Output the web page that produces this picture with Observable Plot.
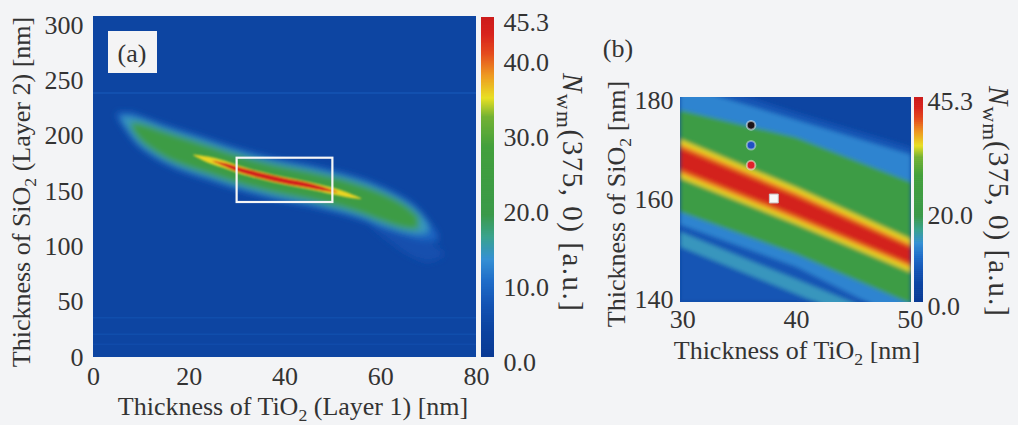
<!DOCTYPE html>
<html><head><meta charset="utf-8">
<script src="https://cdn.jsdelivr.net/npm/d3@7"></script>
<script src="https://cdn.jsdelivr.net/npm/@observablehq/plot@0.6"></script>
<style>
html,body{margin:0;padding:0;background:#f3f4f6;}
#chart{position:relative;width:1018px;height:425px;overflow:hidden;}
#chart svg{position:absolute;left:0;top:0;}
</style></head><body><div id="chart"></div>
<script>
// ================= DATA =================
// ---- panel (a)
const aXTicks = [0, 20, 40, 60, 80];
const aYTicks = [0, 50, 100, 150, 200, 250, 300];
const aXDomain = [0, 80];
const aYDomain = [0, 308];
const aBackground = 4;                 // N_wm of the dark-blue field
const aStreakY = [239, 36, 21, 12];    // faint lighter rows in the map
const aStreakV = [8, 6.5, 6.5, 6];
// faint haze below the right end of the band (level 6)
const aHazeX   = [58, 62, 66, 70, 73];
const aHazeTop = [126, 118, 110, 104, 96];
const aHazeBot = [118, 104, 92, 86, 90];
// light-blue halo (level 9)
const aHaloX   = [5, 8, 10, 15, 20, 25, 30, 35, 40, 45, 50, 55, 60, 65, 68, 72];
const aHaloTop = [221, 221, 218, 210, 203, 196, 189, 183, 178, 174, 169, 163, 155, 144, 134, 112];
const aHaloBot = [216, 197, 188, 174, 165, 158, 151, 145, 140, 136, 131, 125, 117, 110, 106, 104];
// cyan edge (level 14)
const aEdgeX   = [6, 8, 10, 15, 20, 25, 30, 35, 40, 45, 50, 55, 60, 65, 68, 70];
const aEdgeTop = [218, 217, 215, 207, 200, 193, 186, 180, 175, 171, 166, 160, 152, 141, 131, 120];
const aEdgeBot = [214, 201, 191, 177, 168, 161, 154, 148, 143, 139, 134, 128, 120, 113, 111, 112];
// green body (level 22)
const aGreenX   = [8, 10, 15, 20, 25, 30, 35, 40, 45, 50, 55, 60, 65, 68];
const aGreenTop = [212, 211, 204, 197, 190, 183, 177, 172, 168, 163, 157, 149, 138, 127];
const aGreenBot = [207, 195, 180, 171, 164, 157, 151, 146, 142, 137, 131, 123, 116, 115];
// yellow core (level 35)
const aYellowX   = [21, 24, 27, 30, 35, 40, 45, 50, 53, 56];
const aYellowTop = [183, 181.1, 177.9, 173.5, 167.5, 162.5, 158.4, 153, 148.7, 143.4];
const aYellowBot = [182, 175.5, 171.1, 166.5, 160.5, 155.5, 151.6, 147, 144.3, 142.6];
// red core (level 44)
const aRedX   = [25, 28, 30, 35, 40, 45, 48, 51];
const aRedTop = [177.3, 174.8, 172.3, 166.6, 161.6, 157.4, 153.8, 149.3];
const aRedBot = [176.7, 171.2, 167.7, 161.4, 156.4, 152.6, 150.2, 148.7];
// zoom window shown in (b)
const zoomX = [30, 50];
const zoomY = [140, 180];

// ---- colour bars
const cbMax = 45.3;
const cbATicks = [0, 10, 20, 30, 40, 45.3];
const cbBTicks = [0, 20, 45.3];

// ---- panel (b)
const bXTicks = [30, 40, 50];
const bYTicks = [140, 160, 180];
const bXDomain = [29.8, 50.1];
const bYDomain = [139.4, 180.6];
const bBackground = 4;
const bX = [29.8, 40, 50.1];
const bBlueTop   = [185, 177.5, 170.5];   // level 7
const bBlueBot   = [139.4, 139.4, 139.4];
const bLightTop  = [183, 176, 169];       // level 12
const bLightBot  = [155, 146.5, 135];
const bFringeTop = [153.5, 144, 134.5];   // level 14
const bFringeBot = [150.5, 141, 131.5];
const bGreenTop  = [178, 172.5, 163.5];   // level 22
const bGreenBot  = [157.5, 149, 139];
const bYellowTop = [172.1, 162.4, 152.0]; // level 35
const bYellowBot = [164.3, 155.1, 145.4];
const bOrangeTop = [171.1, 161.4, 151.0]; // level 39
const bOrangeBot = [165.3, 156.0, 146.4];
const bRedTop    = [170.3, 160.6, 150.3]; // level 44
const bRedBot    = [166.1, 156.8, 147.1];
const bDotX = [36, 36, 36];
const bDotY = [175, 171, 167];
const bSquareX = [38];
const bSquareY = [160.3];

// ================= STYLE =================
const cStops  = [0, 4, 7, 10, 13, 16, 19, 28, 32, 34.5, 37.5, 40.5, 43, 45.3];
const cColors = ["#0a3a94","#0d45a2","#1454b4","#1f6cc8","#3590d4","#3aa38e","#3b9a4a",
                 "#43a03c","#74b234","#e8e024","#ee9a22","#e44a1e","#d8241e","#cc1c1c"];
const FONT = "'Liberation Serif','Times New Roman',serif";
const baseStyle = `background:transparent;overflow:visible;font-family:${FONT};font-size:26px;color:#333;`;
const colorScale = {type: "linear", domain: cStops, range: cColors, interpolate: "rgb", clamp: true};

function band(level, xs, top, bot) {
  return xs.map((x, i) => ({level, x, hi: top[i], lo: bot[i]}));
}
function addBlur(svg, id, std, fr) {
  const f = d3.select(svg).append("defs").append("filter")
    .attr("id", id).attr("filterUnits", "userSpaceOnUse")
    .attr("x", fr[0]).attr("y", fr[1]).attr("width", fr[2]).attr("height", fr[3]);
  f.append("feGaussianBlur").attr("stdDeviation", std).attr("edgeMode", "duplicate");
}
const chart = document.getElementById("chart");

// ================= PANEL (a) =================
const aOuter = [
  ...band(6, aHazeX, aHazeTop, aHazeBot),
  ...band(9, aHaloX, aHaloTop, aHaloBot),
  ...band(14, aEdgeX, aEdgeTop, aEdgeBot),
  ...band(22, aGreenX, aGreenTop, aGreenBot)
];
const aInner = [
  ...band(35, aYellowX, aYellowTop, aYellowBot),
  ...band(44, aRedX, aRedTop, aRedBot)
];
const A = {left: 93, right: 476, top: 16, bottom: 357};
const plotA = Plot.plot({
  width: 1018, height: 425,
  marginLeft: A.left, marginRight: 1018 - A.right, marginTop: A.top, marginBottom: 425 - A.bottom,
  style: baseStyle,
  x: {domain: aXDomain, ticks: aXTicks, tickSize: 0, tickPadding: 9, label: null},
  y: {domain: aYDomain, ticks: aYTicks, tickSize: 0, tickPadding: 10, label: null},
  color: colorScale,
  marks: [
    Plot.rect([{x1: aXDomain[0], x2: aXDomain[1], y1: aYDomain[0], y2: aYDomain[1], v: aBackground}],
      {x1: "x1", x2: "x2", y1: "y1", y2: "y2", fill: "v"}),
    Plot.ruleY(aStreakY.map((y, i) => ({y, v: aStreakV[i]})), {y: "y", stroke: "v", strokeWidth: 1.5, strokeOpacity: 0.7}),
    Plot.areaY(aOuter, {x: "x", y1: "lo", y2: "hi", z: "level", fill: "level", curve: "catmull-rom", clip: true}),
    Plot.areaY(aInner, {x: "x", y1: "lo", y2: "hi", z: "level", fill: "level", curve: "catmull-rom", clip: true}),
    Plot.rect([{x1: zoomX[0], x2: zoomX[1], y1: zoomY[0], y2: zoomY[1]}],
      {x1: "x1", x2: "x2", y1: "y1", y2: "y2", fill: "none", stroke: "#f6f6f6", strokeWidth: 2.2})
  ]
});
chart.appendChild(plotA);
{
  const fr = [A.left, A.top, A.right - A.left, A.bottom - A.top];
  addBlur(plotA, "blurAo", 3.2, fr);
  addBlur(plotA, "blurAi", 1.1, fr);
  const g = plotA.querySelectorAll('g[aria-label="area"]');
  if (g[0]) g[0].setAttribute("filter", "url(#blurAo)");
  if (g[1]) g[1].setAttribute("filter", "url(#blurAi)");
}

// ================= COLOUR BARS =================
const cbSteps = d3.range(0, cbMax, 0.15);
function colorBar(left, right, top, bottom, ticks, pad, dy) {
  return Plot.plot({
    width: 1018, height: 425,
    marginLeft: left, marginRight: 1018 - right, marginTop: top, marginBottom: 425 - bottom,
    style: baseStyle,
    x: {domain: [0, 1], axis: null},
    y: {domain: [0, cbMax]},
    color: colorScale,
    marks: [
      Plot.rect(cbSteps, {x1: 0, x2: 1, y1: d => d, y2: d => Math.min(cbMax, d + 0.3), fill: d => d + 0.075}),
      Plot.axisY(ticks, {anchor: "right", tickSize: 0, tickPadding: pad, dy, tickFormat: d => d.toFixed(1), label: null})
    ]
  });
}
chart.appendChild(colorBar(481, 494, 17, 357, cbATicks, 9, 5));

// ================= PANEL (b) =================
const bBands = [
  ...band(7, bX, bBlueTop, bBlueBot),
  ...band(12, bX, bLightTop, bLightBot),
  ...band(14, bX, bFringeTop, bFringeBot),
  ...band(22, bX, bGreenTop, bGreenBot),
  ...band(35, bX, bYellowTop, bYellowBot),
  ...band(39, bX, bOrangeTop, bOrangeBot),
  ...band(44, bX, bRedTop, bRedBot)
];
const B = {left: 680, right: 911, top: 97, bottom: 302};
const bDots = bDotX.map((x, i) => ({x, y: bDotY[i]}));
const plotB = Plot.plot({
  width: 1018, height: 425,
  marginLeft: B.left, marginRight: 1018 - B.right, marginTop: B.top, marginBottom: 425 - B.bottom,
  style: baseStyle,
  x: {domain: bXDomain, ticks: bXTicks, tickSize: 0, tickPadding: 7, label: null},
  y: {domain: bYDomain, ticks: bYTicks, tickSize: 0, tickPadding: 7, label: null},
  color: colorScale,
  marks: [
    Plot.rect([{x1: bXDomain[0], x2: bXDomain[1], y1: bYDomain[0], y2: bYDomain[1], v: bBackground}],
      {x1: "x1", x2: "x2", y1: "y1", y2: "y2", fill: "v"}),
    Plot.areaY(bBands, {x: "x", y1: "lo", y2: "hi", z: "level", fill: "level", curve: "linear", clip: true}),
    Plot.dot([bDots[0]], {x: "x", y: "y", r: 4.3, fill: "#1c1418", stroke: "#d8e8f0", strokeOpacity: 0.6, strokeWidth: 2}),
    Plot.dot([bDots[1]], {x: "x", y: "y", r: 4.3, fill: "#1f4fc4", stroke: "#d8e8f0", strokeOpacity: 0.5, strokeWidth: 2}),
    Plot.dot([bDots[2]], {x: "x", y: "y", r: 4.3, fill: "#e0202a", stroke: "#f0e0d0", strokeOpacity: 0.6, strokeWidth: 2}),
    Plot.dot(bSquareX.map((x, i) => ({x, y: bSquareY[i]})), {x: "x", y: "y", symbol: "square", r: 5, fill: "#f8f8f8", stroke: "#c8c8c8", strokeWidth: 1})
  ]
});
chart.appendChild(plotB);
{
  addBlur(plotB, "blurB", 2.3, [B.left, B.top, B.right - B.left, B.bottom - B.top]);
  const g = plotB.querySelectorAll('g[aria-label="area"]');
  if (g[0]) g[0].setAttribute("filter", "url(#blurB)");
}
chart.appendChild(colorBar(914, 923, 97, 302, cbBTicks, 4, 4));

// ================= TEXT OVERLAY =================
const ov = d3.select(chart).append("svg").attr("width", 1018).attr("height", 425)
  .style("font-family", FONT).style("font-size", "26px").attr("fill", "#333");

function label(x, y, rot, parts, extra = {}) {
  const t = ov.append("text").attr("text-anchor", "middle")
    .attr("transform", `translate(${x},${y}) rotate(${rot})`);
  if (extra.textLength) t.attr("textLength", extra.textLength).attr("lengthAdjust", "spacing");
  if (extra.size) t.style("font-size", extra.size + "px");
  const subSize = extra.subSize || "0.68em";
  let shift = 0;
  parts.forEach(p => {
    const s = t.append("tspan").text(p.t);
    if (p.sub) { s.attr("dy", 6 - shift).style("font-size", subSize); shift = 6; }
    else if (shift) { s.attr("dy", -shift); shift = 0; }
    if (p.it) s.style("font-style", "italic");
  });
  return t;
}
// panel (a) titles
label(29.5, 192, -90, [{t: "Thickness of SiO"}, {t: "2", sub: true}, {t: " (Layer 2) [nm]"}]);
label(293, 415, 0, [{t: "Thickness of TiO"}, {t: "2", sub: true}, {t: " (Layer 1) [nm]"}]);
label(562.5, 192, 90, [{t: "N", it: true}, {t: "wm", sub: true}, {t: "(375, 0) [a.u.]"}],
  {textLength: 238, size: 29, subSize: "0.75em"});
// panel (b) titles
label(624.5, 204, -90, [{t: "Thickness of SiO"}, {t: "2", sub: true}, {t: " [nm]"}]);
label(797, 359, 0, [{t: "Thickness of TiO"}, {t: "2", sub: true}, {t: " [nm]"}]);
label(989, 201, 90, [{t: "N", it: true}, {t: "wm", sub: true}, {t: "(375, 0) [a.u.]"}],
  {textLength: 230, size: 29, subSize: "0.75em"});
// panel tags
ov.append("rect").attr("x", 108).attr("y", 31).attr("width", 49).attr("height", 42).attr("fill", "#f4f4f5");
label(132, 62, 0, [{t: "(a)"}]);
label(618, 57, 0, [{t: "(b)"}]);
</script></body></html>
